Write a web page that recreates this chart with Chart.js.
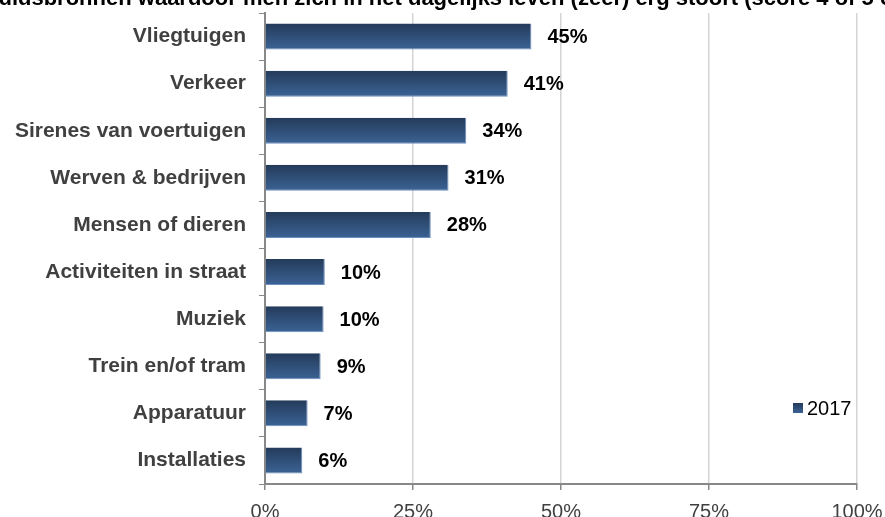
<!DOCTYPE html>
<html>
<head>
<meta charset="utf-8">
<script src="https://cdn.jsdelivr.net/npm/chart.js@4.4.1/dist/chart.umd.min.js"></script>
<style>
html,body{margin:0;padding:0;background:#fff;}
#wrap{width:885px;height:517px;position:relative;}
</style>
</head>
<body>
<div id="wrap"><canvas id="c" width="885" height="517"></canvas></div>
<script>
const titleText = "Geluidsbronnen waardoor men zich in het dagelijks leven (zeer) erg stoort (score 4 of 5 op 5)";
const categories = ["Vliegtuigen","Verkeer","Sirenes van voertuigen","Werven & bedrijven","Mensen of dieren","Activiteiten in straat","Muziek","Trein en/of tram","Apparatuur","Installaties"];
const seriesName = "2017";
const values2017 = [45, 41, 34, 31, 28, 10.1, 9.9, 9.4, 7.2, 6.3];
const xTickValues = [0, 25, 50, 75, 100];

const FONT = "'Liberation Sans', Arial, Helvetica, sans-serif";
const BAR_PCT = 0.553;

function barGradient(ctx){
  const chart = ctx.chart;
  const ys = chart.scales && chart.scales.y;
  if (ctx.dataIndex === undefined || !ys || !chart.chartArea) return '#30507a';
  const c = ys.getPixelForValue(ctx.dataIndex);
  const half = (ys.bottom - ys.top) / categories.length * BAR_PCT / 2;
  const g = chart.ctx.createLinearGradient(0, c - half, 0, c + half);
  g.addColorStop(0, '#243b5a');
  g.addColorStop(1, '#3b6395');
  return g;
}

const titlePlugin = {
  id: 'cutTitle',
  afterDraw(chart){
    const ctx = chart.ctx;
    ctx.save();
    ctx.font = "bold 22px " + FONT;
    ctx.fillStyle = '#000';
    ctx.textAlign = 'left';
    ctx.textBaseline = 'alphabetic';
    ctx.fillText(titleText, -37, 5);
    ctx.restore();
  }
};

const valueLabels = {
  id: 'valueLabels',
  afterDatasetsDraw(chart){
    const ctx = chart.ctx;
    const meta = chart.getDatasetMeta(0);
    ctx.save();
    ctx.font = "bold 20px " + FONT;
    ctx.fillStyle = '#000';
    ctx.textAlign = 'left';
    ctx.textBaseline = 'middle';
    meta.data.forEach((bar, i) => {
      ctx.fillText(Math.round(values2017[i]) + '%', bar.x + 16, bar.y + 1);
    });
    ctx.restore();
  }
};

const legendPlugin = {
  id: 'sideLegend',
  afterDraw(chart){
    const ctx = chart.ctx;
    ctx.save();
    const g = ctx.createLinearGradient(0, 403, 0, 413);
    g.addColorStop(0, '#243b5a');
    g.addColorStop(1, '#3b6395');
    ctx.fillStyle = g;
    ctx.fillRect(793, 403, 10, 10);
    ctx.font = "20px " + FONT;
    ctx.fillStyle = '#000';
    ctx.textAlign = 'left';
    ctx.textBaseline = 'middle';
    ctx.fillText(seriesName, 807, 409);
    ctx.restore();
  }
};

new Chart(document.getElementById('c'), {
  type: 'bar',
  data: {
    labels: categories,
    datasets: [{
      label: seriesName,
      data: values2017,
      backgroundColor: barGradient,
      borderColor: '#6b8dbf',
      borderWidth: { top: 0, right: 1, bottom: 1, left: 0 },
      borderSkipped: false,
      categoryPercentage: 1,
      barPercentage: BAR_PCT
    }]
  },
  plugins: [titlePlugin, valueLabels, legendPlugin],
  options: {
    indexAxis: 'y',
    responsive: false,
    animation: false,
    layout: { padding: { top: 13, right: 28, left: 0, bottom: 0 } },
    plugins: { legend: { display: false }, tooltip: { enabled: false }, title: { display: false } },
    scales: {
      x: {
        type: 'linear',
        min: 0, max: 100,
        afterBuildTicks(scale){ scale.ticks = xTickValues.map(v => ({ value: v })); },
        afterFit(scale){ scale.height = 33; scale.paddingLeft = 0; scale.paddingRight = 0; },
        ticks: {
          callback: v => v + '%',
          color: '#404040',
          font: { family: FONT, size: 20 },
          padding: 10,
          maxRotation: 0,
          autoSkip: false
        },
        grid: {
          color: '#d4d4d4',
          lineWidth: 1.5,
          tickColor: '#888',
          tickLength: 6,
          drawOnChartArea: true
        },
        border: { display: true, color: '#888', width: 2 }
      },
      y: {
        afterFit(scale){ scale.width = 265; scale.paddingTop = 0; scale.paddingBottom = 0; },
        ticks: {
          color: '#404040',
          font: { family: FONT, size: 21, weight: 'bold' },
          padding: 13,
          autoSkip: false
        },
        grid: {
          drawOnChartArea: false,
          tickColor: '#888',
          tickLength: 6,
          offset: true
        },
        border: { display: true, color: '#888', width: 2 }
      }
    }
  }
});
</script>
</body>
</html>
